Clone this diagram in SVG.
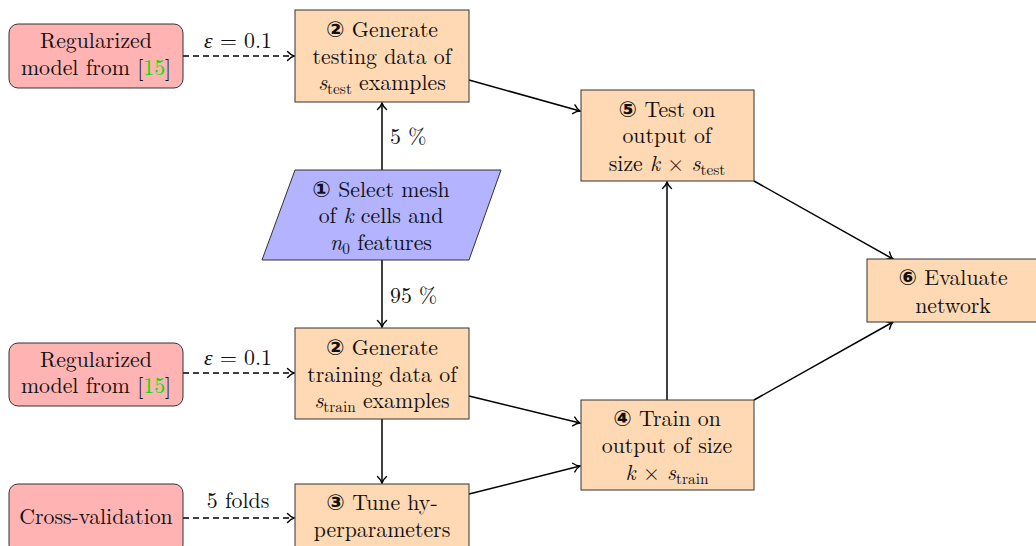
<svg xmlns="http://www.w3.org/2000/svg" width="1036" height="546" viewBox="0 0 1036 546">
<style>
.n{fill:#ffd9b3;stroke:#333;stroke-width:1}
.r{fill:#ffb3b3;stroke:#333;stroke-width:1}
.p{fill:#b3b3ff;stroke:#333;stroke-width:1}
text{font-size:21.8px;fill:#111;text-anchor:middle}
.l{text-anchor:start}
.c{font-weight:bold;font-size:22px}
.s{font-size:15.3px}
.i{font-style:italic}
.g{fill:#00e000}
.e{stroke:#000;stroke-width:1.5;fill:none;marker-end:url(#a)}
.d{stroke-dasharray:6 4}
</style>
<defs>
<marker id="a" markerUnits="userSpaceOnUse" viewBox="-8 -6 10 12" refX="0" refY="0" markerWidth="10" markerHeight="12" orient="auto" overflow="visible">
<path d="M-6.5,-4.5 C-4,-1.8 -1.8,-0.5 0,0 C-1.8,0.5 -4,1.8 -6.5,4.5" fill="none" stroke="#000" stroke-width="1.4" stroke-linecap="round"/>
</marker>
</defs>
<g font-family="Latin Modern Roman, Liberation Serif, serif">
<g id="connectors">
<line class="e d" x1="183" y1="56" x2="294" y2="56"/>
<line class="e d" x1="183" y1="373" x2="294" y2="373"/>
<line class="e d" x1="183" y1="518" x2="294" y2="518"/>
<line class="e" x1="382" y1="170" x2="382" y2="103"/>
<line class="e" x1="382" y1="260" x2="382" y2="327"/>
<line class="e" x1="382" y1="419" x2="382" y2="483"/>
<line class="e" x1="469" y1="80" x2="580" y2="111"/>
<line class="e" x1="754" y1="181" x2="893" y2="259"/>
<line class="e" x1="667" y1="400" x2="667" y2="182"/>
<line class="e" x1="754" y1="400" x2="893" y2="322"/>
<line class="e" x1="469" y1="396" x2="580" y2="423"/>
<line class="e" x1="469" y1="494" x2="580" y2="466"/>
<text x="238" y="48"><tspan class="i">ε</tspan> = 0.1</text>
<text x="238" y="365"><tspan class="i">ε</tspan> = 0.1</text>
<text x="238" y="508">5 folds</text>
<text class="l" x="390" y="144">5 %</text>
<text class="l" x="390" y="303">95 %</text>
</g>
<g id="reg1">
<rect class="r" x="9" y="24" width="174" height="64" rx="9"/>
<text x="96" y="48">Regularized</text>
<text x="96" y="75">model from [<tspan class="g">15</tspan>]</text>
</g>
<g id="reg2">
<rect class="r" x="9" y="343" width="174" height="63" rx="9"/>
<text x="96" y="367">Regularized</text>
<text x="96" y="393">model from [<tspan class="g">15</tspan>]</text>
</g>
<g id="cv">
<rect class="r" x="9" y="484" width="174" height="70" rx="9"/>
<text x="96" y="524">Cross-validation</text>
</g>
<g id="gentest">
<rect class="n" x="295" y="10" width="174" height="92"/>
<text x="382" y="37"><tspan class="c" font-family="DejaVu Sans, sans-serif">②</tspan> Generate</text>
<text x="382" y="64">testing data of</text>
<text x="382" y="90"><tspan class="i">s</tspan><tspan class="s" dy="3.5">test</tspan><tspan dy="-3.5"> examples</tspan></text>
</g>
<g id="select">
<polygon class="p" points="295,170 501,170 469,260 262,260"/>
<text x="381" y="197"><tspan class="c" font-family="DejaVu Sans, sans-serif">①</tspan> Select mesh</text>
<text x="381" y="223">of <tspan class="i">k</tspan> cells and</text>
<text x="381" y="250"><tspan class="i">n</tspan><tspan class="s" dy="3.5">0</tspan><tspan dy="-3.5"> features</tspan></text>
</g>
<g id="gentrain">
<rect class="n" x="295" y="328" width="174" height="91"/>
<text x="382" y="355"><tspan class="c" font-family="DejaVu Sans, sans-serif">②</tspan> Generate</text>
<text x="382" y="382">training data of</text>
<text x="382" y="408"><tspan class="i">s</tspan><tspan class="s" dy="3.5">train</tspan><tspan dy="-3.5"> examples</tspan></text>
</g>
<g id="tune">
<rect class="n" x="295" y="484" width="174" height="72"/>
<text x="382" y="510"><tspan class="c" font-family="DejaVu Sans, sans-serif">③</tspan> Tune hy-</text>
<text x="382" y="537">perparameters</text>
</g>
<g id="test">
<rect class="n" x="581" y="90" width="173" height="91"/>
<text x="667" y="117"><tspan class="c" font-family="DejaVu Sans, sans-serif">⑤</tspan> Test on</text>
<text x="667" y="143">output of</text>
<text x="667" y="171">size <tspan class="i">k</tspan> × <tspan class="i">s</tspan><tspan class="s" dy="3.5">test</tspan></text>
</g>
<g id="train">
<rect class="n" x="581" y="400" width="173" height="90"/>
<text x="667" y="426"><tspan class="c" font-family="DejaVu Sans, sans-serif">④</tspan> Train on</text>
<text x="667" y="453">output of size</text>
<text x="667" y="480"><tspan class="i">k</tspan> × <tspan class="i">s</tspan><tspan class="s" dy="3.5">train</tspan></text>
</g>
<g id="eval">
<rect class="n" x="867" y="259" width="175" height="63"/>
<text x="953" y="285"><tspan class="c" font-family="DejaVu Sans, sans-serif">⑥</tspan> Evaluate</text>
<text x="953" y="313">network</text>
</g>
</g>
</svg>
